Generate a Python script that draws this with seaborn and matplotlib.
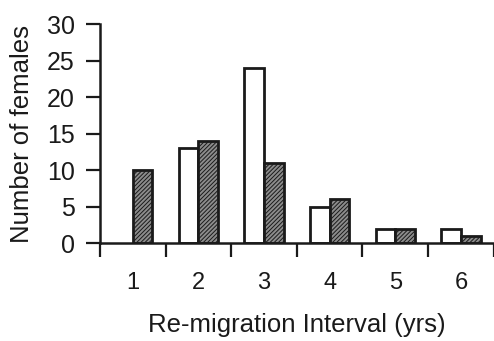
import matplotlib
matplotlib.use("Agg")
import matplotlib.pyplot as plt
import seaborn as sns
import pandas as pd
from matplotlib.ticker import FixedLocator

# values
intervals = ["1", "2", "3", "4", "5", "6"]
open_counts = [0, 13, 24, 5, 2, 2]
hatched_counts = [10, 14, 11, 6, 2, 1]
groups = ["open", "hatched"]

df = pd.DataFrame({
    "interval": intervals * 2,
    "group": [groups[0]] * len(intervals) + [groups[1]] * len(intervals),
    "count": open_counts + hatched_counts,
})

sns.set_theme(style="ticks")
plt.rcParams["font.family"] = ["Liberation Sans", "DejaVu Sans"]
plt.rcParams["hatch.linewidth"] = 0.7

fig = plt.figure(figsize=(4.94, 3.41), dpi=100)
ax = fig.add_axes([0.2024, 0.2865, 0.797, 0.643])

sns.barplot(data=df, x="interval", y="count", hue="group", hue_order=groups,
            order=intervals, width=0.6, legend=False, ax=ax, saturation=1)

faces = ["white", "#8c8c8c"]
hatches = [None, "////////"]
for cont, fc, h in zip(ax.containers, faces, hatches):
    for bar in cont:
        bar.set_facecolor(fc)
        bar.set_edgecolor("#1a1a1a")
        bar.set_linewidth(2.0)
        if h:
            bar.set_hatch(h)
        if bar.get_height() == 0:
            bar.set_linewidth(0)

ax.set_xlim(-0.5, len(intervals) - 0.5)
ax.set_ylim(0, 30)
ax.set_yticks(range(0, 31, 5))

# boundaries between categories carry the tick marks, labels sit unmarked
ax.xaxis.set_minor_locator(FixedLocator([i - 0.5 for i in range(len(intervals) + 1)]))
ax.tick_params(axis="x", which="major", length=0, pad=21, labelsize=17, colors="#1a1a1a")
ax.tick_params(axis="x", which="minor", length=10, width=1.6, direction="out", color="#1a1a1a")
ax.tick_params(axis="y", length=10, width=1.6, pad=8, labelsize=18, colors="#1a1a1a")

for side in ["top", "right"]:
    ax.spines[side].set_visible(False)
for side in ["left", "bottom"]:
    ax.spines[side].set_linewidth(1.8)
    ax.spines[side].set_color("#1a1a1a")

ax.set_xlabel("Re-migration Interval (yrs)", fontsize=18.5, labelpad=13, color="#1a1a1a")
ax.set_ylabel("Number of females", fontsize=18.5, labelpad=9, color="#1a1a1a")

fig.savefig("out.png", dpi=100)
